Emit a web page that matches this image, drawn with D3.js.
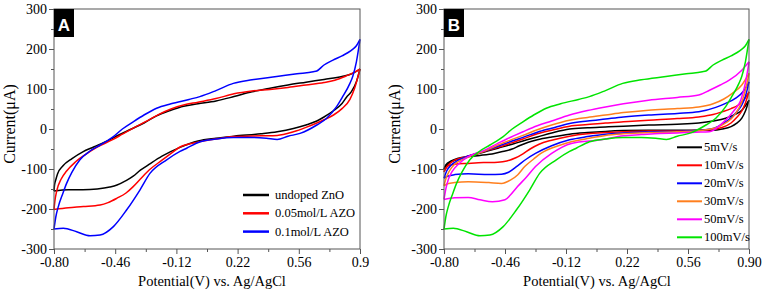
<!DOCTYPE html>
<html><head><meta charset="utf-8">
<script src="https://cdn.jsdelivr.net/npm/d3@7"></script>
<style>body{margin:0;background:#fff} svg{display:block} .serif{font-family:"Liberation Serif","DejaVu Serif",serif}</style>
</head><body><svg id="c" width="765" height="293"></svg>
<script>
// ---------- tick data ----------
const xTicks = [-0.80, -0.46, -0.12, 0.22, 0.56, 0.90];
const xMinorTicks = [-0.63, -0.29, 0.05, 0.39, 0.73];
const xTickLabelsA = ["-0.80", "-0.46", "-0.12", "0.22", "0.56", "0.9"];
const xTickLabelsB = ["-0.80", "-0.46", "-0.12", "0.22", "0.56", "0.90"];
const yTicks = [-300, -200, -100, 0, 100, 200, 300];
const yMinorTicks = [-250, -150, -50, 50, 150, 250];

// ---------- panel A series (forward scan, reverse scan) ----------
const undopedFwd = [[-0.80,-155],[-0.797,-140],[-0.79,-127],[-0.78,-112],[-0.75,-92],[-0.70,-74],[-0.64,-57],[-0.58,-45],[-0.50,-29],[-0.44,-15],[-0.37,0],[-0.30,15],[-0.23,33],[-0.15,47],[-0.08,57],[0.00,63],[0.10,70],[0.20,81],[0.30,93],[0.40,102],[0.50,110],[0.60,117],[0.70,124],[0.80,131],[0.86,139],[0.90,150]];
const undopedRev = [[0.90,150],[0.88,118],[0.85,92],[0.826,80],[0.80,64],[0.75,45],[0.70,30],[0.66,20],[0.60,10],[0.53,1],[0.44,-7],[0.35,-12],[0.20,-18],[0.10,-23],[0.00,-30],[-0.10,-46],[-0.20,-68],[-0.27,-88],[-0.32,-103],[-0.36,-118],[-0.40,-129],[-0.45,-140],[-0.49,-145],[-0.56,-150],[-0.64,-152],[-0.72,-152],[-0.80,-155]];
const azo005Fwd = [[-0.80,-201],[-0.795,-180],[-0.785,-155],[-0.76,-125],[-0.73,-105],[-0.68,-82],[-0.62,-62],[-0.56,-45],[-0.48,-28],[-0.42,-13],[-0.36,2],[-0.28,21],[-0.22,36],[-0.15,50],[-0.08,60],[0.00,67],[0.10,76],[0.20,88],[0.30,95],[0.40,99],[0.50,104],[0.60,110],[0.70,116],[0.76,122],[0.82,132],[0.87,142],[0.90,150]];
const azo005Rev = [[0.90,150],[0.87,102],[0.844,74],[0.80,51],[0.753,35],[0.70,23],[0.66,15],[0.60,4],[0.53,-7],[0.44,-16],[0.35,-17],[0.20,-19],[0.10,-25],[0.01,-32],[-0.10,-45],[-0.14,-58],[-0.20,-78],[-0.27,-102],[-0.32,-125],[-0.36,-144],[-0.40,-160],[-0.45,-173],[-0.50,-184],[-0.544,-190],[-0.637,-194],[-0.72,-197],[-0.80,-201]];
const azo01Fwd = [[-0.80,-250],[-0.79,-220],[-0.776,-194],[-0.75,-160],[-0.73,-136],[-0.70,-108],[-0.656,-77],[-0.60,-55],[-0.544,-40],[-0.47,-19],[-0.42,0],[-0.36,18],[-0.30,35],[-0.23,52],[-0.15,63],[-0.05,74],[0.01,81],[0.10,96],[0.196,114],[0.30,123],[0.437,131],[0.55,138],[0.64,143],[0.66,145],[0.70,160],[0.75,172],[0.80,183],[0.85,196],[0.88,208],[0.90,224]];
const azo01Rev = [[0.90,224],[0.88,168],[0.86,132],[0.844,114],[0.80,78],[0.77,56],[0.715,27],[0.66,10],[0.567,-11],[0.50,-18],[0.44,-26],[0.38,-23],[0.30,-21],[0.196,-21],[0.10,-25],[0.011,-32],[-0.063,-48],[-0.10,-56],[-0.174,-77],[-0.267,-111],[-0.322,-152],[-0.396,-202],[-0.47,-244],[-0.544,-265],[-0.60,-267],[-0.674,-257],[-0.748,-248],[-0.80,-250]];

// ---------- panel B series ----------
const r5Fwd = [[-0.80,-100],[-0.78,-88],[-0.75,-80],[-0.70,-73],[-0.64,-65],[-0.58,-58],[-0.50,-48],[-0.42,-38],[-0.36,-30],[-0.28,-20],[-0.20,-10],[-0.10,0],[0.00,3],[0.10,5],[0.20,7],[0.34,10],[0.50,12],[0.62,15],[0.70,20],[0.77,27],[0.82,36],[0.86,47],[0.88,58],[0.90,72]];
const r5Rev = [[0.90,72],[0.88,45],[0.86,27],[0.83,14],[0.80,6],[0.75,0],[0.70,-3],[0.50,-3],[0.34,-3],[0.20,-4],[0.10,-6],[0.00,-9],[-0.10,-13],[-0.20,-20],[-0.28,-27],[-0.33,-33],[-0.38,-42],[-0.42,-50],[-0.48,-57],[-0.52,-61],[-0.60,-66],[-0.66,-69],[-0.72,-73],[-0.76,-80],[-0.79,-90],[-0.80,-100]];
const r10Fwd = [[-0.80,-107],[-0.78,-92],[-0.75,-80],[-0.70,-72],[-0.64,-64],[-0.58,-57],[-0.50,-46],[-0.42,-34],[-0.36,-25],[-0.28,-12],[-0.20,-3],[-0.10,7],[0.00,11],[0.10,15],[0.20,18],[0.34,22],[0.50,26],[0.62,30],[0.70,36],[0.75,43],[0.80,51],[0.84,60],[0.87,72],[0.90,93]];
const r10Rev = [[0.90,93],[0.88,65],[0.86,45],[0.83,28],[0.80,15],[0.75,4],[0.70,-1],[0.60,-4],[0.50,-5],[0.34,-5],[0.20,-7],[0.10,-9],[0.00,-12],[-0.10,-18],[-0.20,-28],[-0.27,-38],[-0.32,-50],[-0.36,-62],[-0.40,-72],[-0.45,-80],[-0.50,-83],[-0.58,-84],[-0.665,-86],[-0.74,-88],[-0.78,-93],[-0.80,-107]];
const r20Fwd = [[-0.80,-123],[-0.785,-105],[-0.76,-90],[-0.72,-78],[-0.66,-67],[-0.58,-56],[-0.50,-43],[-0.42,-30],[-0.36,-21],[-0.28,-8],[-0.20,2],[-0.10,14],[0.00,20],[0.10,25],[0.20,30],[0.34,35],[0.50,39],[0.62,43],[0.715,54],[0.77,64],[0.826,77],[0.87,95],[0.90,118]];
const r20Rev = [[0.90,118],[0.88,82],[0.86,60],[0.83,42],[0.80,28],[0.75,12],[0.70,1],[0.60,-4],[0.50,-6],[0.34,-7],[0.20,-10],[0.10,-13],[0.00,-19],[-0.10,-27],[-0.20,-42],[-0.29,-61],[-0.34,-75],[-0.39,-92],[-0.44,-108],[-0.48,-113],[-0.55,-114],[-0.665,-112],[-0.74,-114],[-0.78,-118],[-0.80,-123]];
const r30Fwd = [[-0.80,-142],[-0.79,-125],[-0.77,-105],[-0.74,-88],[-0.70,-77],[-0.64,-66],[-0.58,-56],[-0.50,-40],[-0.42,-26],[-0.36,-16],[-0.28,-2],[-0.20,10],[-0.10,22],[0.00,29],[0.10,35],[0.20,41],[0.34,47],[0.50,51],[0.62,55],[0.70,63],[0.76,75],[0.807,89],[0.86,110],[0.90,139]];
const r30Rev = [[0.90,139],[0.88,97],[0.86,68],[0.826,39],[0.80,25],[0.75,10],[0.715,3],[0.60,-5],[0.50,-7],[0.34,-9],[0.20,-12],[0.10,-16],[0.00,-24],[-0.10,-33],[-0.15,-40],[-0.26,-61],[-0.30,-75],[-0.35,-94],[-0.39,-115],[-0.43,-128],[-0.48,-136],[-0.55,-134],[-0.665,-132],[-0.74,-134],[-0.78,-137],[-0.80,-142]];
const r50Fwd = [[-0.80,-176],[-0.79,-150],[-0.775,-125],[-0.757,-108],[-0.72,-88],[-0.665,-69],[-0.58,-54],[-0.50,-36],[-0.45,-25],[-0.36,-7],[-0.28,8],[-0.20,20],[-0.10,35],[0.00,46],[0.10,55],[0.20,63],[0.34,72],[0.50,79],[0.62,85],[0.68,97],[0.74,110],[0.79,122],[0.86,147],[0.90,168]];
const r50Rev = [[0.90,168],[0.88,115],[0.854,72],[0.82,48],[0.789,31],[0.75,14],[0.678,-7],[0.60,-8],[0.50,-10],[0.40,-11],[0.30,-14],[0.20,-17],[0.076,-27],[-0.09,-36],[-0.20,-61],[-0.29,-94],[-0.34,-120],[-0.39,-144],[-0.43,-165],[-0.46,-177],[-0.53,-182],[-0.60,-177],[-0.665,-171],[-0.74,-172],[-0.80,-176]];
const r100Fwd = azo01Fwd;
const r100Rev = azo01Rev;

const seriesNamesA = ["undoped ZnO", "0.05mol/L AZO", "0.1mol/L AZO"];
const seriesNamesB = ["5mV/s", "10mV/s", "20mV/s", "30mV/s", "50mV/s", "100mV/s"];

const colorsA = ["#000000", "#ff0000", "#0000ff"];
const colorsB = ["#000000", "#ff0000", "#0000ff", "#ff7f1e", "#ff00ff", "#00e400"];

const seriesA = [[undopedFwd, undopedRev], [azo005Fwd, azo005Rev], [azo01Fwd, azo01Rev]];
const seriesB = [[r5Fwd, r5Rev], [r10Fwd, r10Rev], [r20Fwd, r20Rev], [r30Fwd, r30Rev], [r50Fwd, r50Rev], [r100Fwd, r100Rev]];

// ---------- drawing ----------
const svg = d3.select("#c");
const frameColor = "#555";

function panel(cfg) {
  const x = d3.scaleLinear().domain([-0.80, 0.90]).range([cfg.left, cfg.right]);
  const y = d3.scaleLinear().domain([-300, 300]).range([cfg.bottom, cfg.top]);
  const g = svg.append("g");

  const line = d3.line().x(d => x(d[0])).y(d => y(d[1])).curve(d3.curveMonotoneX);
  cfg.series.forEach((s, i) => {
    s.forEach(branch => {
      const pts = branch.slice().sort((a, b) => a[0] - b[0]);
      g.append("path").attr("d", line(pts)).attr("fill", "none")
        .attr("stroke", cfg.colors[i]).attr("stroke-width", 1.5).attr("stroke-linejoin", "round");
    });
  });

  g.append("rect").attr("x", cfg.left).attr("y", cfg.top)
    .attr("width", cfg.right - cfg.left).attr("height", cfg.bottom - cfg.top)
    .attr("fill", "none").attr("stroke", frameColor).attr("stroke-width", 1);

  const yAx = g.append("g").attr("transform", `translate(${cfg.left},0)`)
    .call(d3.axisLeft(y).tickValues(yTicks).tickSize(5).tickPadding(2).tickFormat(d => d));
  const yAxMinor = g.append("g").attr("transform", `translate(${cfg.left},0)`)
    .call(d3.axisLeft(y).tickValues(yMinorTicks).tickSize(3).tickFormat(""));
  const xAx = g.append("g").attr("transform", `translate(0,${cfg.bottom})`)
    .call(d3.axisBottom(x).tickValues(xTicks).tickSize(5).tickPadding(3).tickFormat((d, i) => cfg.xLabels[i]));
  const xAxMinor = g.append("g").attr("transform", `translate(0,${cfg.bottom})`)
    .call(d3.axisBottom(x).tickValues(xMinorTicks).tickSize(3).tickFormat(""));
  [yAx, yAxMinor, xAx, xAxMinor].forEach(a => {
    a.attr("font-family", null).attr("font-size", null);
    a.select(".domain").remove();
    a.selectAll("line").attr("stroke", frameColor);
    a.selectAll("text").attr("class", "serif").style("font-size", "14px").attr("fill", "#000");
  });

  g.append("text").attr("class", "serif").attr("x", cfg.xTitleX).attr("y", 286).attr("text-anchor", "middle")
    .style("font-size", "14.5px").text("Potential(V) vs. Ag/AgCl");
  g.append("text").attr("class", "serif").attr("transform", `translate(${cfg.yTitleX},124) rotate(-90)`).attr("text-anchor", "middle")
    .style("font-size", "16px").text("Current(μA)");

  g.append("rect").attr("x", cfg.left).attr("y", cfg.top).attr("width", 20).attr("height", 28).attr("fill", "#000");
  g.append("text").attr("x", cfg.left + 10).attr("y", cfg.top + 22).attr("text-anchor", "middle")
    .style("font-family", "'Liberation Sans',Arial,sans-serif").style("font-weight", "bold")
    .style("font-size", "17px").attr("fill", "#fff").text(cfg.letter);

  const lg = g.append("g");
  cfg.names.forEach((n, i) => {
    const yy = cfg.legY + i * cfg.legStep;
    lg.append("line").attr("x1", cfg.legX).attr("x2", cfg.legX + cfg.legLen)
      .attr("y1", yy).attr("y2", yy).attr("stroke", cfg.colors[i]).attr("stroke-width", cfg.legW);
    lg.append("text").attr("class", "serif").attr("x", cfg.legX + cfg.legLen + cfg.legGap).attr("y", yy + 4)
      .style("font-size", "12.5px").text(n);
  });
}

panel({left: 54, right: 360, top: 9, bottom: 249, series: seriesA, colors: colorsA, names: seriesNamesA,
  xLabels: xTickLabelsA, letter: "A", xTitleX: 212, yTitleX: 15,
  legX: 243, legLen: 26, legGap: 6, legY: 195, legStep: 18.3, legW: 2.5});
panel({left: 444, right: 749, top: 9, bottom: 249, series: seriesB, colors: colorsB, names: seriesNamesB,
  xLabels: xTickLabelsB, letter: "B", xTitleX: 597, yTitleX: 400,
  legX: 677, legLen: 25, legGap: 2, legY: 147.3, legStep: 18, legW: 2});
</script></body></html>
